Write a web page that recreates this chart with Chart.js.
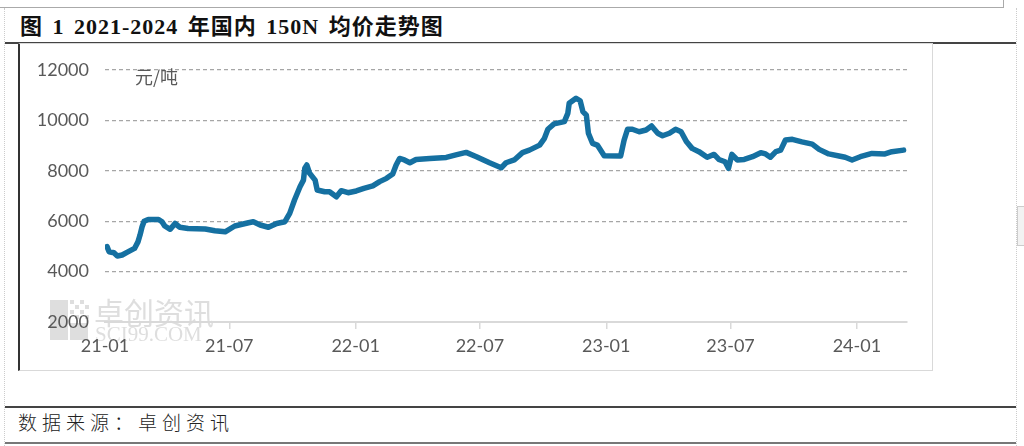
<!DOCTYPE html>
<html>
<head>
<meta charset="utf-8">
<script src="https://cdn.jsdelivr.net/npm/chart.js@4.4.1/dist/chart.umd.min.js"></script>
<style>
  body { margin: 0; background: #fff; width: 1024px; height: 446px; position: relative; overflow: hidden; }
  .ln { position: absolute; }
  #title { position: absolute; left: 20px; top: 8px; font: bold 22px "Liberation Serif", "Noto Sans CJK SC", serif; letter-spacing: 1px; word-spacing: 3px; color: #111; white-space: nowrap; }
  #source { position: absolute; left: 18px; top: 408px; font: 300 19px "Noto Sans CJK SC", sans-serif; letter-spacing: 5px; color: #222; white-space: nowrap; }
  #box { position: absolute; left: 18px; top: 43px; width: 915px; height: 328px; border: 1px solid #d9d9d9; border-left: 2px solid #333; box-sizing: border-box; }
  #wrap { position: absolute; left: 18px; top: 43px; width: 916px; height: 329px; }
</style>
</head>
<body>
<div class="ln" style="left:0;top:7px;width:1003px;height:1px;background:#aaa"></div>
<div class="ln" style="left:1003px;top:0;width:1px;height:8px;background:#aaa"></div>
<div class="ln" style="left:4px;top:8px;width:0;height:438px;border-left:1px dotted #ccc"></div>
<div class="ln" style="left:1016px;top:8px;width:0;height:438px;border-left:1px dotted #ccc"></div>
<div class="ln" style="left:1017px;top:206px;width:7px;height:38px;background:#f2f2f2;border:1px solid #ccc"></div>
<div id="title">图 1 2021-2024 年国内 150N 均价走势图</div>
<div class="ln" style="left:5px;top:42px;width:1011px;height:2px;background:#444"></div>
<div id="box"></div>
<div id="wrap"><canvas id="grafico"></canvas></div>
<div class="ln" style="left:5px;top:406px;width:1011px;height:2px;background:#444"></div>
<div id="source">数据来源：卓创资讯</div>
<div class="ln" style="left:5px;top:442px;width:1011px;height:2px;background:#777"></div>

<script>
// 150N 均价（元/吨）
const datas = [
    '2021-01-04', '2021-01-07', '2021-01-14', '2021-01-19', '2021-01-26', '2021-02-04', '2021-02-13', '2021-02-18',
    '2021-02-21', '2021-02-24', '2021-02-27', '2021-03-05', '2021-03-20', '2021-03-25', '2021-03-29', '2021-04-06',
    '2021-04-13', '2021-04-20', '2021-05-02', '2021-05-27', '2021-06-10', '2021-06-25', '2021-07-09', '2021-07-29',
    '2021-08-05', '2021-08-15', '2021-08-27', '2021-09-08', '2021-09-20', '2021-09-27', '2021-10-04', '2021-10-12',
    '2021-10-17', '2021-10-19', '2021-10-22', '2021-10-26', '2021-11-03', '2021-11-06', '2021-11-17', '2021-11-24',
    '2021-12-04', '2021-12-11', '2021-12-21', '2022-01-02', '2022-01-13', '2022-01-26', '2022-02-05', '2022-02-15',
    '2022-02-24', '2022-03-01', '2022-03-06', '2022-03-13', '2022-03-21', '2022-03-30', '2022-04-19', '2022-05-13',
    '2022-05-27', '2022-06-11', '2022-06-26', '2022-07-15', '2022-08-01', '2022-08-08', '2022-08-20', '2022-09-01',
    '2022-09-11', '2022-09-26', '2022-10-03', '2022-10-08', '2022-10-17', '2022-11-01', '2022-11-06', '2022-11-08',
    '2022-11-18', '2022-11-24', '2022-11-28', '2022-12-03', '2022-12-06', '2022-12-12', '2022-12-19', '2022-12-29',
    '2023-01-22', '2023-01-27', '2023-02-01', '2023-02-08', '2023-02-18', '2023-02-28', '2023-03-08', '2023-03-17',
    '2023-03-24', '2023-04-03', '2023-04-12', '2023-04-20', '2023-04-28', '2023-05-06', '2023-05-16', '2023-05-28',
    '2023-06-07', '2023-06-14', '2023-06-23', '2023-06-28', '2023-07-03', '2023-07-11', '2023-07-21', '2023-08-02',
    '2023-08-14', '2023-08-21', '2023-08-28', '2023-09-05', '2023-09-12', '2023-09-19', '2023-09-29', '2023-10-13',
    '2023-10-28', '2023-11-07', '2023-11-21', '2023-12-06', '2023-12-15', '2023-12-25', '2024-01-06', '2024-01-23',
    '2024-02-11', '2024-02-21', '2024-03-09'
];
const precos = [
    4990, 4790, 4750, 4620, 4660, 4790, 4920, 5180,
    5450, 5780, 6000, 6070, 6070, 5980, 5810, 5680,
    5910, 5760, 5710, 5690, 5620, 5580, 5810, 5940,
    5980, 5850, 5760, 5910, 5980, 6310, 6840, 7370,
    7630, 8100, 8230, 7900, 7630, 7240, 7170, 7170,
    6970, 7210, 7130, 7200, 7300, 7400, 7570, 7700,
    7870, 8230, 8490, 8430, 8320, 8450, 8490, 8530,
    8630, 8730, 8560, 8320, 8120, 8320, 8430, 8720,
    8820, 9020, 9290, 9650, 9860, 9950, 10280, 10680,
    10880, 10780, 10350, 10210, 9490, 9090, 9020, 8600,
    8590, 9220, 9650, 9650, 9550, 9620, 9780, 9490,
    9390, 9490, 9650, 9550, 9150, 8890, 8760, 8540,
    8650, 8450, 8360, 8100, 8650, 8430, 8450, 8560,
    8720, 8670, 8540, 8760, 8820, 9220, 9250, 9150,
    9060, 8850, 8670, 8590, 8540, 8430, 8560, 8690,
    8670, 8760, 8820
];
const rotulosX = ['21-01', '21-07', '22-01', '22-07', '23-01', '23-07', '24-01'];
const ticksY = [2000, 4000, 6000, 8000, 10000, 12000];

const inicio = Date.UTC(2021, 0, 1);
function dia(s) {
    const p = s.split('-');
    return Math.round((Date.UTC(+p[0], +p[1] - 1, +p[2]) - inicio) / 86400000);
}
const diasTicks = rotulosX.map(r => dia('20' + r + '-01'));
const pontos = datas.map((d, i) => ({ x: dia(d), y: precos[i] }));

const marcaDagua = {
    id: 'marcaDagua',
    beforeDraw(chart) {
        const ctx = chart.ctx;
        ctx.save();
        ctx.fillStyle = 'rgba(200,200,200,0.6)';
        // logo quadrados
        ctx.fillRect(32, 257, 18, 40);
        for (let i = 0; i < 4; i++) {
            for (let j = 0; j < 4; j++) {
                if ((i + j) % 2 === 0) ctx.fillRect(52 + i * 5, 257 + j * 5, 4, 4);
            }
        }
        ctx.fillRect(52, 280, 18, 17);
        ctx.font = '30px "Noto Sans CJK SC"';
        ctx.textBaseline = 'alphabetic';
        ctx.fillText('卓创资讯', 76, 281);
        ctx.font = '21px "Liberation Serif"';
        ctx.fillText('SCI99.COM', 77, 298);
        ctx.restore();
    },
    afterDraw(chart) {
        const ctx = chart.ctx;
        ctx.save();
        ctx.fillStyle = '#595959';
        ctx.font = '18px "Noto Sans CJK SC"';
        ctx.textBaseline = 'middle';
        ctx.fillText('元/吨', 117, 34);
        ctx.restore();
    }
};

const ctxGrafico = document.getElementById('grafico').getContext('2d');
window.grafico = new Chart(ctxGrafico, {
    type: 'line',
    data: {
        datasets: [{
            label: '150N',
            data: pontos,
            borderColor: '#1570a1',
            borderWidth: 5.5,
            pointRadius: 0,
            tension: 0,
            borderJoinStyle: 'round',
            borderCapStyle: 'round'
        }]
    },
    options: {
        responsive: true,
        maintainAspectRatio: false,
        animation: false,
        layout: { padding: { top: 27, right: 27, left: 0, bottom: 0 } },
        plugins: {
            legend: { display: false },
            tooltip: { enabled: false }
        },
        scales: {
            x: {
                type: 'linear',
                min: 0,
                max: 1168,
                afterBuildTicks: scale => { scale.ticks = diasTicks.map(v => ({ value: v })); },
                afterFit: scale => { scale.height = 50; },
                ticks: {
                    callback: v => rotulosX[diasTicks.indexOf(v)],
                    color: '#595959',
                    font: { family: 'Lato', size: 18 },
                    padding: 6,
                    maxRotation: 0,
                    autoSkip: false
                },
                grid: {
                    drawOnChartArea: false,
                    drawTicks: true,
                    tickLength: 7,
                    color: c => c.index === 0 ? 'rgba(0,0,0,0)' : '#d9d9d9',
                    lineWidth: 1.5
                },
                border: { display: true, color: '#d9d9d9', width: 2 }
            },
            y: {
                min: 2000,
                max: 12000,
                afterBuildTicks: scale => { scale.ticks = ticksY.map(v => ({ value: v })); },
                afterFit: scale => { scale.width = 87; },
                ticks: {
                    callback: v => String(v),
                    color: '#595959',
                    font: { family: 'Lato', size: 18 },
                    padding: 16
                },
                grid: {
                    drawTicks: false,
                    color: c => c.tick && c.tick.value === 2000 ? 'rgba(0,0,0,0)' : '#a6a6a6',
                    lineWidth: 1.2
                },
                border: { display: false, dash: [4, 3] }
            }
        }
    },
    plugins: [marcaDagua]
});
</script>
</body>
</html>
